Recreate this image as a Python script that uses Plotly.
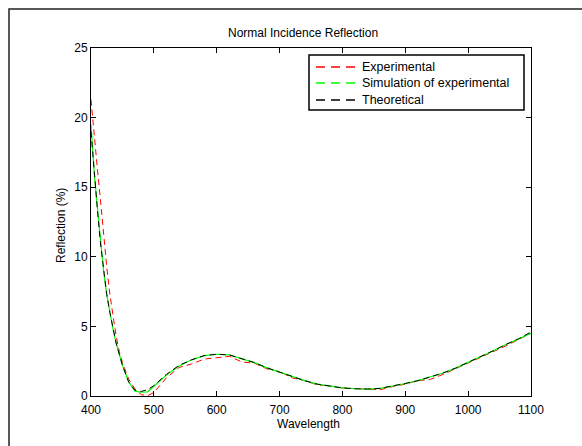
import plotly.graph_objects as go

wavelength = [400, 405, 410, 415, 420, 425, 430, 435, 440, 445, 450, 460, 470, 480, 490,
              500, 510, 520, 540, 560, 580, 600, 620, 640, 660, 680, 700, 720, 740, 760,
              780, 800, 820, 840, 860, 880, 900, 920, 940, 960, 980, 1000, 1020, 1040,
              1060, 1080, 1100]

experimental = [21.3, 18.6, 16.4, 14.1, 11.6, 9.3, 7.3, 5.6, 4.3, 3.2, 2.4, 1.2, 0.5, 0.1, 0.02,
                0.25, 0.8, 1.3, 2.05, 2.3, 2.65, 2.75, 2.85, 2.45, 2.35, 1.95, 1.75, 1.3, 1.1, 0.8,
                0.72, 0.58, 0.55, 0.5, 0.45, 0.68, 0.85, 1.1, 1.2, 1.55, 1.95, 2.35, 2.75, 3.2,
                3.6, 4.05, 4.5]

simulation = [19.5, 16.1, 13.6, 11.0, 9.0, 7.3, 6.0, 4.8, 3.8, 3.0, 2.2, 1.0, 0.35, 0.27, 0.3,
              0.7, 1.1, 1.5, 2.15, 2.6, 2.9, 3.0, 2.95, 2.65, 2.4, 2.02, 1.7, 1.4, 1.1, 0.85,
              0.7, 0.58, 0.52, 0.5, 0.55, 0.7, 0.9, 1.1, 1.35, 1.65, 2.0, 2.4, 2.8, 3.25,
              3.7, 4.1, 4.5]

theoretical = [19.0, 16.0, 13.5, 11.0, 9.0, 7.3, 6.0, 4.8, 3.8, 3.0, 2.2, 1.0, 0.4, 0.33, 0.45,
               0.75, 1.15, 1.55, 2.2, 2.6, 2.9, 3.0, 2.95, 2.65, 2.4, 2.02, 1.7, 1.4, 1.1, 0.85,
               0.7, 0.58, 0.52, 0.5, 0.55, 0.7, 0.9, 1.1, 1.35, 1.65, 2.0, 2.4, 2.8, 3.25,
               3.7, 4.1, 4.6]

series_names = ["Experimental", "Simulation of experimental", "Theoretical"]
series_colors = ["#ff0000", "#00ff00", "#000000"]

x_ticks = [400, 500, 600, 700, 800, 900, 1000, 1100]
y_ticks = [0, 5, 10, 15, 20, 25]

FONT = "Liberation Sans, Arial, sans-serif"
DASH = "6px,4px"
LEGEND_DASH = "9px,6px"

fig = go.Figure()
fig.add_trace(go.Scatter(x=wavelength, y=experimental, mode="lines", name=series_names[0],
                         line=dict(color=series_colors[0], width=1, dash=DASH)))
fig.add_trace(go.Scatter(x=wavelength, y=simulation, mode="lines", name=series_names[1],
                         line=dict(color=series_colors[1], width=1.2)))
fig.add_trace(go.Scatter(x=wavelength, y=theoretical, mode="lines", name=series_names[2],
                         line=dict(color=series_colors[2], width=1, dash=DASH)))

L, R, T, B = 91, 531, 48, 396
W, H = 582, 446
pw, ph = R - L, B - T

def px(xp):
    return (xp - L) / pw

def py(yp):
    return (B - yp) / ph

# boxed legend as in the original figure
LEG_L, LEG_R, LEG_T, LEG_B = 309, 524, 55, 110
ROWS_Y = [67, 83, 100]
SAMPLE_X0, SAMPLE_X1, TEXT_X = 316, 356, 360

shapes = [
    dict(type="rect", xref="paper", yref="paper",
         x0=px(9), x1=px(640), y0=py(500), y1=py(9),
         line=dict(color="#222222", width=1.5), fillcolor="rgba(0,0,0,0)", layer="below"),
    dict(type="rect", xref="paper", yref="paper",
         x0=px(LEG_L), x1=px(LEG_R), y0=py(LEG_B), y1=py(LEG_T),
         line=dict(color="black", width=1.5), fillcolor="white", layer="above"),
]
annotations = [
    dict(text="Normal Incidence Reflection", xref="paper", yref="paper",
         x=px(303), y=py(33), showarrow=False, xanchor="center", yanchor="middle",
         font=dict(family=FONT, size=12, color="black")),
    dict(text="Wavelength", xref="paper", yref="paper",
         x=px(308), y=py(424), showarrow=False, xanchor="center", yanchor="middle",
         font=dict(family=FONT, size=12, color="black")),
    dict(text="Reflection (%)", xref="paper", yref="paper", textangle=-90,
         x=px(61), y=py(226), showarrow=False, xanchor="center", yanchor="middle",
         font=dict(family=FONT, size=12, color="black")),
]
for name, color, yrow in zip(series_names, series_colors, ROWS_Y):
    shapes.append(dict(type="line", xref="paper", yref="paper",
                       x0=px(SAMPLE_X0), x1=px(SAMPLE_X1), y0=py(yrow), y1=py(yrow),
                       line=dict(color=color, width=1.5, dash=LEGEND_DASH), layer="above"))
    annotations.append(dict(text=name, xref="paper", yref="paper",
                            x=px(TEXT_X), y=py(yrow), showarrow=False,
                            xanchor="left", yanchor="middle",
                            font=dict(family=FONT, size=12.5, color="black")))

fig.update_layout(
    width=W, height=H,
    margin=dict(l=L, r=W - R, t=T, b=H - B),
    paper_bgcolor="white", plot_bgcolor="white",
    font=dict(family=FONT, size=12, color="black"),
    showlegend=False,
    xaxis=dict(range=[400, 1100], tickvals=x_ticks, ticks="inside", ticklen=5,
               tickcolor="black", showline=True, linecolor="black", linewidth=1,
               mirror="ticks", showgrid=False, zeroline=False, ticklabelstandoff=3,
               tickfont=dict(family=FONT, size=12, color="black")),
    yaxis=dict(range=[0, 25], tickvals=y_ticks, ticks="inside", ticklen=5,
               tickcolor="black", showline=True, linecolor="black", linewidth=1,
               mirror="ticks", showgrid=False, zeroline=False,
               tickfont=dict(family=FONT, size=12, color="black")),
    annotations=annotations,
    shapes=shapes,
)

fig.write_html("out.html")
